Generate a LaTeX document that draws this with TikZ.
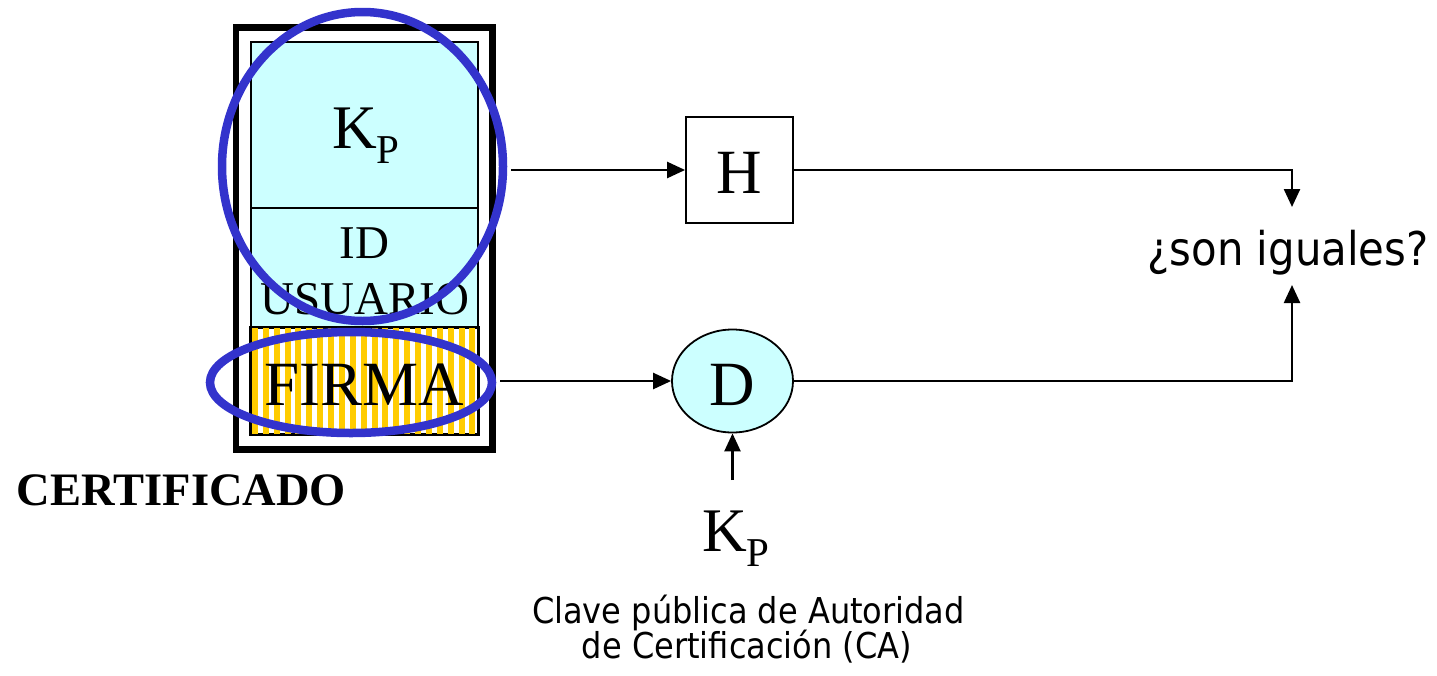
\documentclass[tikz,border=0pt]{standalone}
\usepackage{fontspec}
\setmainfont{Liberation Serif}
\newfontfamily\labelfont{DejaVu Sans Condensed}
\usetikzlibrary{arrows.meta,shapes.geometric}
\definecolor{cellcyan}{HTML}{CCFFFF}
\definecolor{stripeyellow}{HTML}{FFCC00}
\definecolor{ringblue}{HTML}{3333CC}

\tikzset{
  cell/.style={draw=black, line width=1.8pt, fill=cellcyan, inner sep=0pt},
  ring/.style={ellipse, draw=ringblue, line width=8.5pt, inner sep=0pt},
  conn/.style={line width=2.4pt, -{Triangle[length=18pt,width=16pt]}},
  serifbig/.style={font=\fontsize{63}{63}\selectfont, inner sep=0pt, anchor=base},
  sanslabel/.style={font=\labelfont, inner sep=0pt, anchor=base},
}

\newcommand{\keyKP}{K\raisebox{-15pt}{\fontsize{41}{41}\selectfont P}}

\begin{document}
\begin{tikzpicture}[x=1pt,y=-1pt]
  \useasboundingbox (0,0) rectangle (1437,675);

  % certificate frame
  \draw[line width=6.5pt] (236,27.5) rectangle (492.5,449.5);

  % certificate fields
  \node[cell, minimum width=227pt, minimum height=166pt] (kcell) at (364.5,125) {};
  \node[cell, minimum width=227pt, minimum height=120pt] (idcell) at (364.5,268) {};
  \node[draw=black, line width=1.8pt, fill=white, inner sep=0pt,
        minimum width=227pt, minimum height=106pt] (firma) at (364.5,381) {};
  \begin{scope}
    \clip (firma.south west) rectangle (firma.north east);
    \foreach \i in {0,...,20} {
      \fill[stripeyellow] (252+\i*10.87,328) rectangle ++(6,106);
    }
  \end{scope}
  \draw[line width=1.8pt] (firma.south west) rectangle (firma.north east);

  \node[serifbig, font=\fontsize{62}{62}\selectfont] (kptxt) at (366,148) {\keyKP};
  \node[serifbig, font=\fontsize{47}{47}\selectfont] (idtxt) at (364.5,258) {ID};
  \node[serifbig, font=\fontsize{47}{47}\selectfont] (usrtxt) at (365,314) {USUARIO};
  \node[serifbig] (firmatxt) at (364,405) {FIRMA};

  \node[inner sep=0pt, anchor=base, font=\bfseries\fontsize{46.5}{46.5}\selectfont] (cert) at (181.5,505) {CERTIFICADO};

  % processing blocks
  \node[draw=black, line width=1.8pt, minimum width=107pt, minimum height=106pt,
        inner sep=0pt] (H) at (739.5,170) {};
  \node[serifbig] (Htxt) at (739.5,193) {H};
  \node[ellipse, draw=black, line width=1.8pt, fill=cellcyan, minimum width=121pt,
        minimum height=103pt, inner sep=0pt] (D) at (732.5,381) {};
  \node[serifbig] (Dtxt) at (732.5,405) {D};

  \node[serifbig, font=\fontsize{62}{62}\selectfont] (kpca) at (736,551) {\keyKP};
  \coordinate (kpcaTop) at (732.5,480);

  \node[sanslabel, font=\labelfont\fontsize{35.6}{35.6}\selectfont] (ca1) at (748.5,623) {Clave pública de Autoridad};
  \node[sanslabel, font=\labelfont\fontsize{35.6}{35.6}\selectfont] (ca2) at (747,658) {de Certificación (CA)};

  \node[sanslabel, font=\labelfont\fontsize{46.5}{46.5}\selectfont] (cmp) at (1288,265) {¿son iguales?};
  \coordinate (cmpTop) at (1292,207);
  \coordinate (cmpBot) at (1292,285);

  % selection rings
  \node[ring, minimum width=281pt, minimum height=309pt] (selKP) at (362.5,166.5) {};
  \node[ring, minimum width=282pt, minimum height=101pt] (selFirma) at (351,382.5) {};

  % connectors
  \draw[conn, shorten <=4.2pt] (selKP.east |- H.west) -- (H.west);
  \draw[conn, shorten <=4.2pt] (selFirma.east |- D.west) -- (D.west);
  \draw[conn] (H.east) -| (cmpTop);
  \draw[conn] (D.east) -| (cmpBot);
  \draw[conn] (kpcaTop) -- (D.south);
\end{tikzpicture}
\end{document}
